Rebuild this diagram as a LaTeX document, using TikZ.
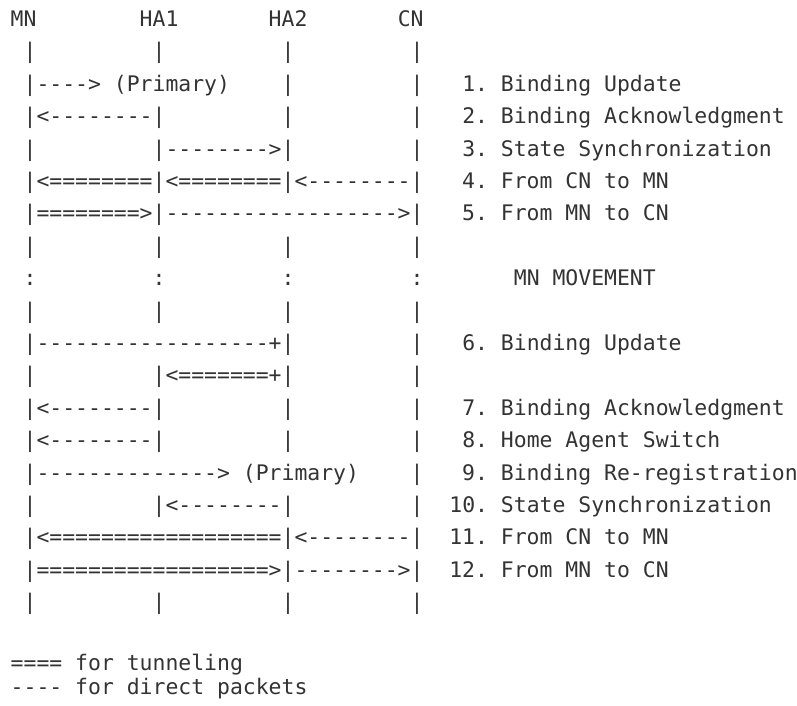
\documentclass[tikz,border=0pt]{standalone}
\usepackage{fontspec}
\setmonofont{DejaVu Sans Mono}
\tikzset{asciirow/.style={anchor=base west, inner sep=0pt, text=black!80,
  font=\ttfamily\fontsize{21.43bp}{32.4bp}\selectfont}}
\begin{document}
\begin{tikzpicture}[x=1bp,y=1bp]
      \useasboundingbox (0,0) rectangle (797,-706);
      \draw
        (10.5,-26.5) node[asciirow] (r0){MN~~~~~~~~HA1~~~~~~~HA2~~~~~~~CN}
        (10.5,-58.9) node[asciirow] (r1){~|~~~~~~~~~|~~~~~~~~~|~~~~~~~~~|}
        (10.5,-91.3) node[asciirow] (r2){~|---->~(Primary)~~~~|~~~~~~~~~|~~~1.~Binding~Update}
        (10.5,-123.7) node[asciirow] (r3){~|<--------|~~~~~~~~~|~~~~~~~~~|~~~2.~Binding~Acknowledgment}
        (10.5,-156.1) node[asciirow] (r4){~|~~~~~~~~~|-------->|~~~~~~~~~|~~~3.~State~Synchronization}
        (10.5,-188.5) node[asciirow] (r5){~|<========|<========|<--------|~~~4.~From~CN~to~MN}
        (10.5,-220.9) node[asciirow] (r6){~|========>|------------------>|~~~5.~From~MN~to~CN}
        (10.5,-253.3) node[asciirow] (r7){~|~~~~~~~~~|~~~~~~~~~|~~~~~~~~~|}
        (10.5,-285.7) node[asciirow] (r8){~:~~~~~~~~~:~~~~~~~~~:~~~~~~~~~:~~~~~~~MN~MOVEMENT}
        (10.5,-318.1) node[asciirow] (r9){~|~~~~~~~~~|~~~~~~~~~|~~~~~~~~~|}
        (10.5,-350.5) node[asciirow] (r10){~|------------------+|~~~~~~~~~|~~~6.~Binding~Update}
        (10.5,-382.9) node[asciirow] (r11){~|~~~~~~~~~|<=======+|~~~~~~~~~|}
        (10.5,-415.3) node[asciirow] (r12){~|<--------|~~~~~~~~~|~~~~~~~~~|~~~7.~Binding~Acknowledgment}
        (10.5,-447.7) node[asciirow] (r13){~|<--------|~~~~~~~~~|~~~~~~~~~|~~~8.~Home~Agent~Switch}
        (10.5,-480.1) node[asciirow] (r14){~|-------------->~(Primary)~~~~|~~~9.~Binding~Re-registration}
        (10.5,-512.5) node[asciirow] (r15){~|~~~~~~~~~|<--------|~~~~~~~~~|~~10.~State~Synchronization}
        (10.5,-544.9) node[asciirow] (r16){~|<==================|<--------|~~11.~From~CN~to~MN}
        (10.5,-577.3) node[asciirow] (r17){~|==================>|-------->|~~12.~From~MN~to~CN}
        (10.5,-609.7) node[asciirow] (r18){~|~~~~~~~~~|~~~~~~~~~|~~~~~~~~~|}
        (10.5,-670) node[asciirow] (r20){====~for~tunneling}
        (10.5,-694) node[asciirow] (r21){----~for~direct~packets};
    \end{tikzpicture}
\end{document}
